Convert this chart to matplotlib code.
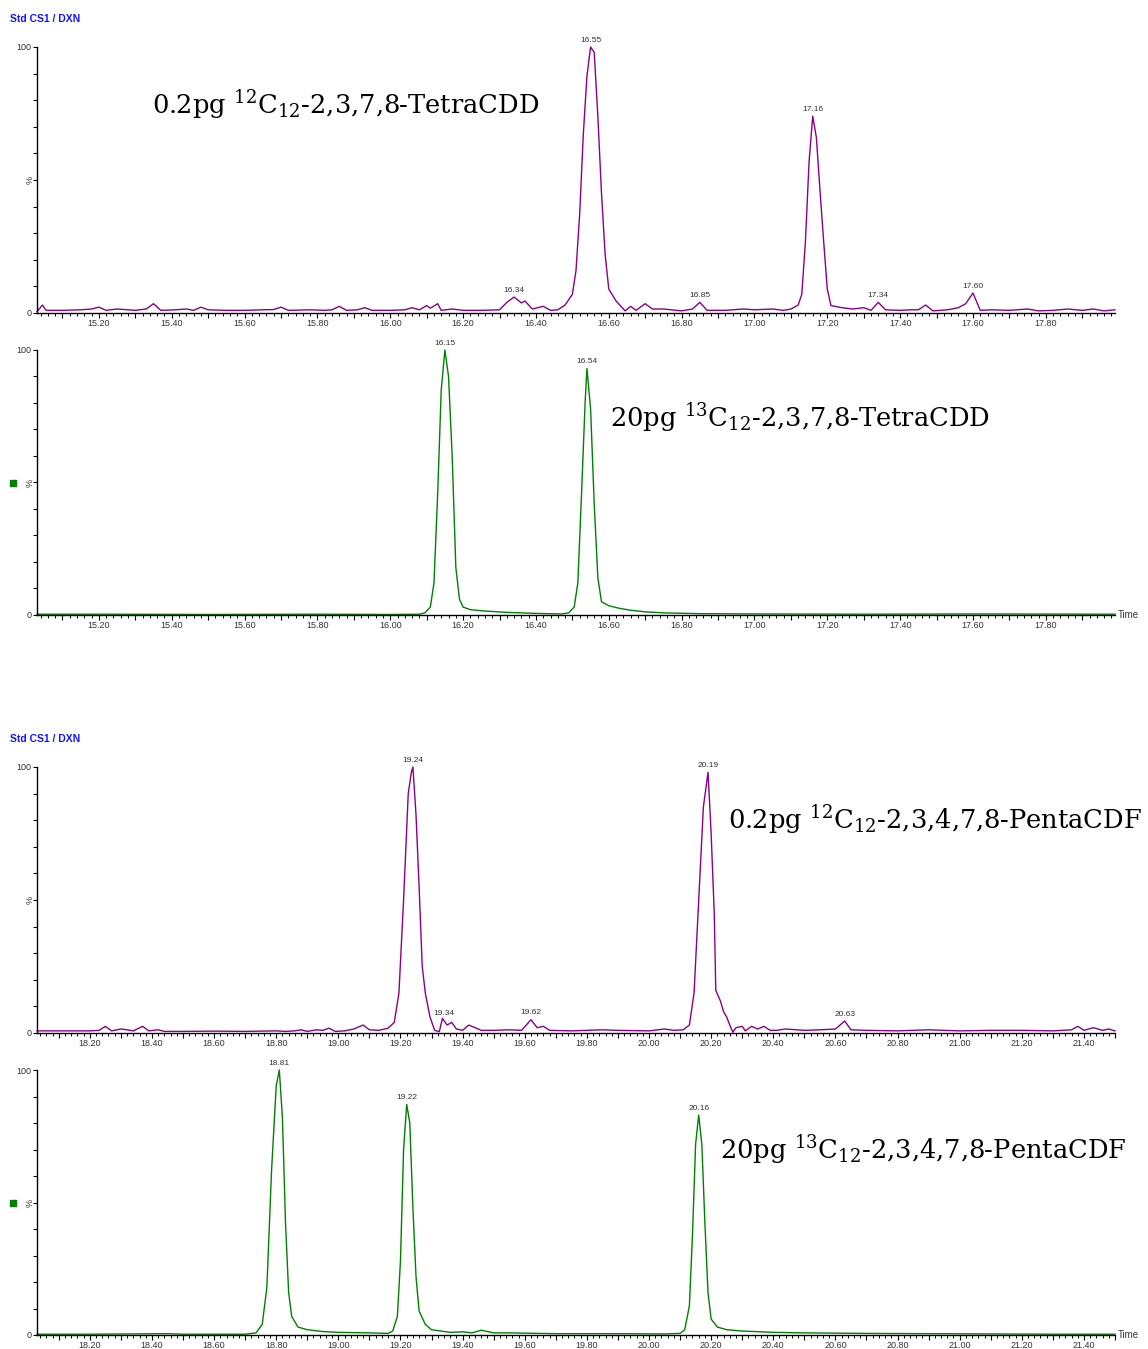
import numpy as np
import matplotlib.pyplot as plt
from matplotlib.patches import Rectangle
from matplotlib.ticker import MultipleLocator, FuncFormatter

plt.rcParams['font.family'] = ['Liberation Sans', 'DejaVu Sans']
plt.rcParams['mathtext.fontset'] = 'dejavuserif'

# --- trace 1: 12C12-2,3,7,8-TetraCDD (0.2 pg)
t1 = [15.03, 15.045, 15.055, 15.10, 15.15, 15.18, 15.20, 15.22, 15.25, 15.28, 15.30, 15.33, 15.35, 15.37,
      15.41, 15.44, 15.46, 15.48, 15.50, 15.55, 15.60, 15.65, 15.68, 15.70, 15.72, 15.78, 15.82, 15.84,
      15.86, 15.88, 15.91, 15.93, 15.95, 16.00, 16.04, 16.06, 16.08, 16.10, 16.11, 16.13, 16.14, 16.17,
      16.20, 16.25, 16.30, 16.32, 16.34, 16.36, 16.37, 16.39, 16.42, 16.44, 16.46, 16.48, 16.50, 16.51,
      16.52, 16.53, 16.54, 16.55, 16.56, 16.57, 16.58, 16.59, 16.60, 16.62, 16.645, 16.66, 16.675, 16.70,
      16.72, 16.75, 16.80, 16.83, 16.85, 16.87, 16.92, 16.97, 17.00, 17.05, 17.08, 17.10, 17.12, 17.13,
      17.14, 17.15, 17.16, 17.17, 17.18, 17.19, 17.20, 17.21, 17.24, 17.27, 17.30, 17.32, 17.34, 17.36,
      17.40, 17.43, 17.45, 17.47, 17.49, 17.53, 17.56, 17.58, 17.60, 17.62, 17.65, 17.70, 17.75, 17.78,
      17.82, 17.86, 17.90, 17.93, 17.96, 17.99]
y1 = [0.5, 3.0, 1.0, 1.0, 1.2, 1.5, 2.2, 1.0, 1.5, 1.2, 1.0, 1.5, 3.5, 1.0,
      1.2, 1.5, 1.0, 2.2, 1.2, 1.0, 1.0, 1.2, 1.3, 2.2, 1.0, 1.2, 1.0, 1.2,
      2.5, 1.0, 1.2, 2.0, 1.0, 1.0, 1.2, 2.0, 1.2, 2.8, 1.8, 3.5, 1.0, 1.5,
      1.0, 1.0, 1.2, 4.0, 6.0, 3.8, 4.5, 1.5, 2.5, 1.0, 1.2, 3.0, 7.0, 16,
      37, 67, 89, 100, 98, 74, 45, 22, 9, 4.5, 0.8, 2.5, 1.0, 3.5,
      1.5, 1.5, 0.8, 1.5, 4.0, 1.0, 1.0, 1.5, 1.2, 1.5, 1.0, 1.5, 3.0, 7,
      27, 57, 74, 66, 46, 27, 9, 2.8, 2.0, 1.5, 2.0, 1.0, 4.0, 1.2,
      1.0, 1.2, 1.2, 3.0, 0.8, 1.2, 2.0, 3.5, 7.5, 1.0, 1.2, 1.0, 1.5, 0.8,
      1.0, 1.5, 1.0, 1.5, 0.8, 1.2]
pk1 = [16.34, 16.55, 16.85, 17.16, 17.34, 17.60]

# --- trace 2: 13C12-2,3,7,8-TetraCDD (20 pg)
t2 = [15.03, 15.20, 15.50, 15.80, 16.00, 16.08, 16.095, 16.11, 16.12, 16.13, 16.14, 16.15, 16.16,
      16.17, 16.18, 16.19, 16.20, 16.22, 16.26, 16.32, 16.40, 16.47, 16.49, 16.505, 16.515, 16.525,
      16.535, 16.54, 16.55, 16.56, 16.57, 16.58, 16.60, 16.63, 16.66, 16.70, 16.75, 16.85, 17.00, 17.30,
      17.60, 17.99]
y2 = [0.3, 0.3, 0.2, 0.3, 0.2, 0.3, 0.8, 3, 12, 45, 85, 100, 90,
      60, 18, 6, 3, 2, 1.5, 1.0, 0.6, 0.4, 0.8, 3, 12, 45,
      80, 93, 78, 42, 14, 5, 3.5, 2.5, 1.8, 1.2, 0.8, 0.5, 0.4, 0.3,
      0.4, 0.3]
pk2 = [16.15, 16.54]

# --- trace 3: 12C12-2,3,4,7,8-PentaCDF (0.2 pg)
t3 = [18.03, 18.10, 18.20, 18.23, 18.25, 18.27, 18.30, 18.32, 18.34, 18.37, 18.39, 18.42, 18.44, 18.50,
      18.60, 18.70, 18.80, 18.83, 18.86, 18.88, 18.90, 18.93, 18.95, 18.97, 18.99, 19.02, 19.05, 19.08,
      19.10, 19.13, 19.16, 19.18, 19.195, 19.21, 19.225, 19.235, 19.24, 19.25, 19.26, 19.27, 19.28,
      19.295, 19.31, 19.325, 19.335, 19.35, 19.365, 19.38, 19.40, 19.42, 19.44, 19.46, 19.50, 19.55,
      19.59, 19.62, 19.64, 19.66, 19.68, 19.75, 19.80, 19.85, 19.90, 20.00, 20.05, 20.08, 20.11, 20.13,
      20.145, 20.16, 20.175, 20.19, 20.20, 20.21, 20.215, 20.23, 20.24, 20.25, 20.26, 20.27, 20.28,
      20.30, 20.31, 20.33, 20.35, 20.37, 20.39, 20.41, 20.44, 20.50, 20.55, 20.60, 20.63, 20.65, 20.70,
      20.80, 20.90, 21.00, 21.10, 21.20, 21.30, 21.36, 21.38, 21.40, 21.43, 21.46, 21.48, 21.50]
y3 = [0.8, 0.8, 0.8, 1.0, 2.5, 0.8, 1.5, 1.2, 0.8, 2.5, 0.8, 1.2, 0.6, 0.6,
      0.7, 0.6, 0.8, 0.6, 0.8, 1.2, 0.6, 1.2, 1.0, 1.8, 0.6, 0.8, 1.5, 3.0,
      1.2, 1.0, 1.8, 4, 15, 50, 90, 98, 100, 82, 55, 25, 15,
      6, 1.0, 0.5, 5.5, 3.0, 4.0, 1.5, 1.0, 3.0, 2.0, 1.0, 1.0, 1.2,
      1.0, 5.0, 2.0, 2.5, 1.0, 0.8, 1.0, 1.2, 1.0, 0.8, 1.5, 1.0, 1.2, 3,
      15, 50, 85, 98, 75, 45, 16, 12, 8, 6, 3, 0.3, 2.0,
      2.5, 0.8, 2.5, 1.5, 2.5, 1.0, 1.0, 1.5, 1.0, 1.2, 1.5, 4.5, 1.2, 1.0,
      0.8, 1.2, 0.8, 1.0, 1.0, 0.8, 1.2, 2.5, 1.0, 2.0, 1.0, 1.5, 0.8]
pk3 = [19.24, 19.34, 19.62, 20.19, 20.63]

# --- trace 4: 13C12-2,3,4,7,8-PentaCDF (20 pg)
t4 = [18.03, 18.20, 18.45, 18.50, 18.70, 18.735, 18.755, 18.77, 18.785, 18.80, 18.81, 18.82, 18.83,
      18.84, 18.85, 18.87, 18.90, 18.95, 19.00, 19.10, 19.16, 19.175, 19.19, 19.20, 19.21, 19.22,
      19.23, 19.24, 19.25, 19.26, 19.28, 19.30, 19.33, 19.36, 19.40, 19.43, 19.46, 19.50, 19.55,
      19.70, 19.90, 20.05, 20.10, 20.115, 20.13, 20.14, 20.15, 20.16, 20.17, 20.18, 20.19, 20.20,
      20.22, 20.25, 20.30, 20.40, 20.50, 20.70, 20.90, 21.10, 21.30, 21.50]
y4 = [0.3, 0.3, 0.5, 0.3, 0.3, 0.8, 4, 18, 62, 94, 100, 82, 42,
      16, 7, 3, 2, 1.3, 1, 0.8, 0.6, 1.5, 7, 28, 70, 87,
      80, 48, 22, 9, 4, 2, 1.5, 1, 1.2, 0.8, 1.8, 0.8, 0.8,
      0.5, 0.5, 0.4, 0.6, 2, 11, 38, 72, 83, 72, 42, 16, 6,
      3, 2, 1.5, 1, 0.8, 0.6, 0.5, 0.4, 0.3, 0.3]
pk4 = [18.81, 19.22, 20.16]

labels = [r'0.2pg $^{12}$C$_{12}$-2,3,7,8-TetraCDD',
          r'20pg $^{13}$C$_{12}$-2,3,7,8-TetraCDD',
          r'0.2pg $^{12}$C$_{12}$-2,3,4,7,8-PentaCDF',
          r'20pg $^{13}$C$_{12}$-2,3,4,7,8-PentaCDF']

purple = '#8a008a'
green = '#008000'
grey = '#333333'

W, H = 1148, 1349
fig = plt.figure(figsize=(W / 100, H / 100), dpi=100)

# panel boxes in pixels: (top, bottom)
boxes = [(47, 313), (350, 615), (767, 1033), (1070, 1335)]
traces = [(t1, y1, pk1, purple, (15.03, 17.99)),
          (t2, y2, pk2, green, (15.03, 17.99)),
          (t3, y3, pk3, purple, (18.03, 21.50)),
          (t4, y4, pk4, green, (18.03, 21.50))]
label_pos = [(152, 105), (610, 418), (728, 820), (720, 1150)]

x0, x1 = 37, 1115
for i, ((top, bot), (t, y, pk, col, xl)) in enumerate(zip(boxes, traces)):
    ax = fig.add_axes([x0 / W, 1 - bot / H, (x1 - x0) / W, (bot - top) / H])
    ax.plot(t, y, color=col, lw=1.0, clip_on=False)
    ax.set_xlim(*xl)
    ax.set_ylim(0, 100)
    for s in ['top', 'right']:
        ax.spines[s].set_visible(False)
    for s in ['left', 'bottom']:
        ax.spines[s].set_linewidth(1.0)
    ax.xaxis.set_major_locator(MultipleLocator(0.1))
    ax.xaxis.set_minor_locator(MultipleLocator(0.02))
    ax.xaxis.set_major_formatter(FuncFormatter(
        lambda v, p: '%.2f' % v if abs(round(v * 10) % 2) == 0 else ''))
    ax.yaxis.set_major_locator(MultipleLocator(10))
    ax.yaxis.set_major_formatter(FuncFormatter(
        lambda v, p: '%d' % v if v in (0, 100) else ''))
    ax.tick_params(axis='x', which='major', length=3.5, width=0.8, labelsize=6.5,
                   labelcolor=grey, pad=0.8)
    ax.tick_params(axis='x', which='minor', length=2.2, width=0.7)
    ax.tick_params(axis='y', length=3, width=0.8, labelsize=6.5, labelcolor=grey, pad=1)
    ax.text(-0.0065, 0.5, '%', transform=ax.transAxes, rotation=90,
            ha='center', va='center', fontsize=6.5, color=grey)
    for p in pk:
        ax.annotate('%.2f' % p, (p, np.interp(p, t, y)), xytext=(0, 2.5),
                    textcoords='offset points', ha='center', va='bottom',
                    fontsize=6, color=grey, annotation_clip=False)
    lx, ly = label_pos[i]
    ax.text((lx - x0) / (x1 - x0), (bot - ly) / (bot - top), labels[i],
            transform=ax.transAxes, ha='left', va='center', fontsize=18.5,
            family='DejaVu Serif', color='black', clip_on=False)
    if i in (1, 3):
        ax.text(1.003, 0, 'Time', transform=ax.transAxes, ha='left',
                va='center', fontsize=7, color=grey)
        yc = (top + bot) / 2
        fig.add_artist(Rectangle((10 / W, 1 - (yc + 3.5) / H), 6 / W, 6 / H,
                                 transform=fig.transFigure, color=green))

for yy in (19, 739):
    fig.text(10 / W, 1 - yy / H, 'Std CS1 / DXN', ha='left', va='center',
             fontsize=7.5, fontweight='bold', color='#1414ff')

fig.savefig('out.png', dpi=100)
